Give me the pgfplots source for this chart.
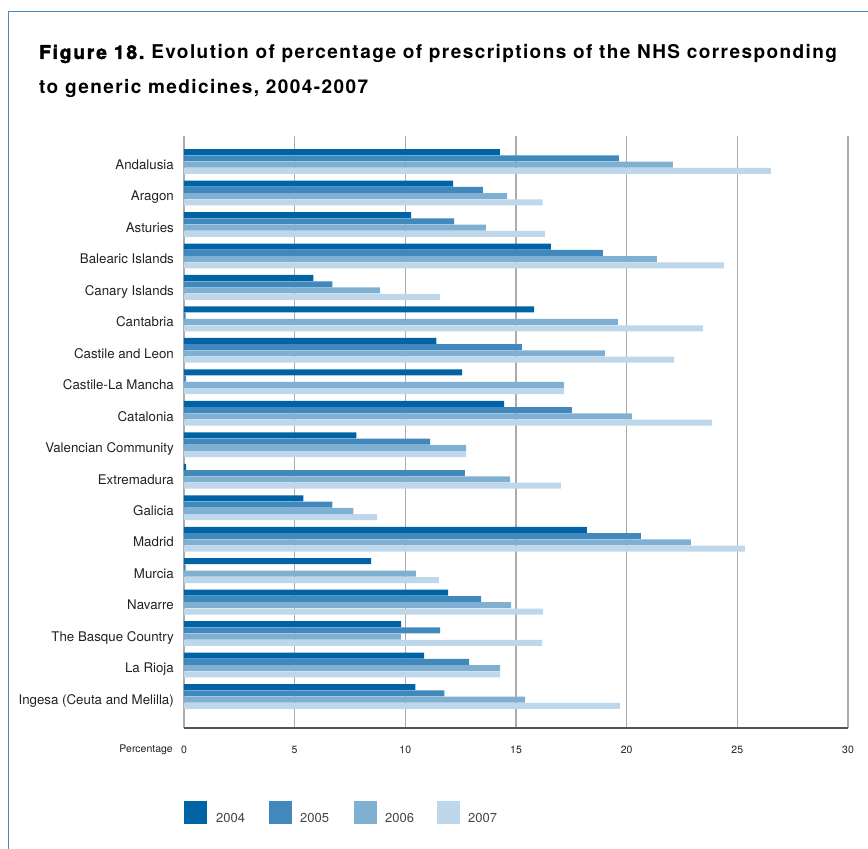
\documentclass[border=0pt]{standalone}
\usepackage{fontspec}
\setmainfont{TeX Gyre Heros}
\newfontfamily\titlefont[LetterSpace=7.5]{TeX Gyre Heros}
\newfontfamily\heavyfont[LetterSpace=10,FakeBold=2.5]{TeX Gyre Heros}
\usepackage{pgfplots}
\usepackage{pgfplotstable}
\pgfplotsset{compat=1.18}

\definecolor{cA}{RGB}{0,99,165}
\definecolor{cB}{RGB}{65,137,189}
\definecolor{cC}{RGB}{127,176,210}
\definecolor{cD}{RGB}{191,215,234}
\definecolor{gridgray}{RGB}{172,172,172}
\definecolor{axisgray}{RGB}{85,85,85}
\definecolor{frameblue}{RGB}{70,138,198}
\definecolor{labelgray}{RGB}{34,34,34}
\definecolor{legendgray}{RGB}{68,68,68}

% Share of NHS prescriptions for generic medicines (%), by region
\pgfplotstableread{
idx  y2004  y2005  y2006  y2007
0    14.27  19.65  22.09  26.51
1    12.16  13.50  14.60  16.20
2    10.26  12.21  13.64  16.30
3    16.58  18.93  21.36  24.39
4     5.84   6.70   8.86  11.57
5    15.82   0.07  19.60  23.44
6    11.40  15.27  19.02  22.14
7    12.57   0.10  17.17  17.17
8    14.46  17.53  20.24  23.85
9     7.79  11.12  12.75  12.75
10    0.10  12.69  14.73  17.03
11    5.39   6.70   7.65   8.72
12   18.20  20.64  22.90  25.34
13    8.46   0.07  10.48  11.52
14   11.93  13.42  14.78  16.22
15    9.81  11.57   9.81  16.18
16   10.85  12.88  14.28  14.28
17   10.45  11.76  15.41  19.69
}\regiondata

\begin{document}
\begin{tikzpicture}
\path[use as bounding box] (0,0) rectangle (868pt,849pt);
% page frame
\draw[frameblue, line width=1.3pt] (8.7pt,0pt) -- (8.7pt,837.3pt) -- (868pt,837.3pt);

% title
\node[anchor=base west, inner sep=0pt] at (39pt,790pt)
  {\fontsize{19}{22}\selectfont{\heavyfont\bfseries Figure 18.} {\titlefont\bfseries Evolution of percentage of prescriptions of the NHS corresponding}};
\node[anchor=base west, inner sep=0pt] at (39pt,755.5pt)
  {\fontsize{19}{22}\selectfont\titlefont\bfseries to generic medicines, 2004-2007};

\begin{axis}[
  at={(184pt,121pt)}, anchor=south west,
  scale only axis, width=664pt, height=592pt,
  xbar, y dir=reverse,
  xmin=0, xmax=30, ymin=-0.81, ymax=18.0,
  bar width=6pt,
  xtick={0,5,...,30},
  ytick={0,...,17},
  yticklabels={Andalusia, Aragon, Asturies, Balearic Islands, Canary Islands,
    Cantabria, Castile and Leon, Castile-La Mancha, Catalonia,
    Valencian Community, Extremadura, Galicia, Madrid, Murcia, Navarre,
    The Basque Country, La Rioja, Ingesa (Ceuta and Melilla)},
  major tick length=0pt,
  xmajorgrids, ymajorgrids=false,
  grid style={draw=gridgray, line width=1.1pt},
  axis line style={draw=none},
  /pgf/number format/assume math mode=true,
  xticklabel style={font=\fontsize{10.5}{12}\selectfont, text=labelgray,
    inner sep=0pt, anchor=north, yshift=-18pt},
  yticklabel style={font=\fontsize{13.3}{15}\selectfont, text=labelgray,
    inner sep=0pt, anchor=base east, xshift=-10pt, yshift=-7.8pt},
  clip=false,
]
% 2004 on top of each group, 2007 at the bottom
\addplot[fill=cA, draw=none, bar shift=9.4pt]  table[x=y2004, y=idx] {\regiondata};
\addplot[fill=cB, draw=none, bar shift=3.1pt]  table[x=y2005, y=idx] {\regiondata};
\addplot[fill=cC, draw=none, bar shift=-3.1pt] table[x=y2006, y=idx] {\regiondata};
\addplot[fill=cD, draw=none, bar shift=-9.4pt] table[x=y2007, y=idx] {\regiondata};
\draw[axisgray, line width=1.4pt] (axis cs:0,18) -- (axis cs:30,18);
\end{axis}

\node[anchor=base east, inner sep=0pt, text=labelgray] at (173pt,96pt)
  {\fontsize{10.5}{12}\selectfont Percentage};

% legend
\fill[cA] (184pt,25pt) rectangle +(23pt,23pt);
\node[anchor=base west, inner sep=0pt, text=legendgray] at (216pt,26pt) {\fontsize{13}{15}\selectfont 2004};
\fill[cB] (269pt,25pt) rectangle +(23pt,23pt);
\node[anchor=base west, inner sep=0pt, text=legendgray] at (300pt,26pt) {\fontsize{13}{15}\selectfont 2005};
\fill[cC] (354pt,25pt) rectangle +(23pt,23pt);
\node[anchor=base west, inner sep=0pt, text=legendgray] at (385pt,26pt) {\fontsize{13}{15}\selectfont 2006};
\fill[cD] (437pt,25pt) rectangle +(23pt,23pt);
\node[anchor=base west, inner sep=0pt, text=legendgray] at (468pt,26pt) {\fontsize{13}{15}\selectfont 2007};
\end{tikzpicture}
\end{document}
